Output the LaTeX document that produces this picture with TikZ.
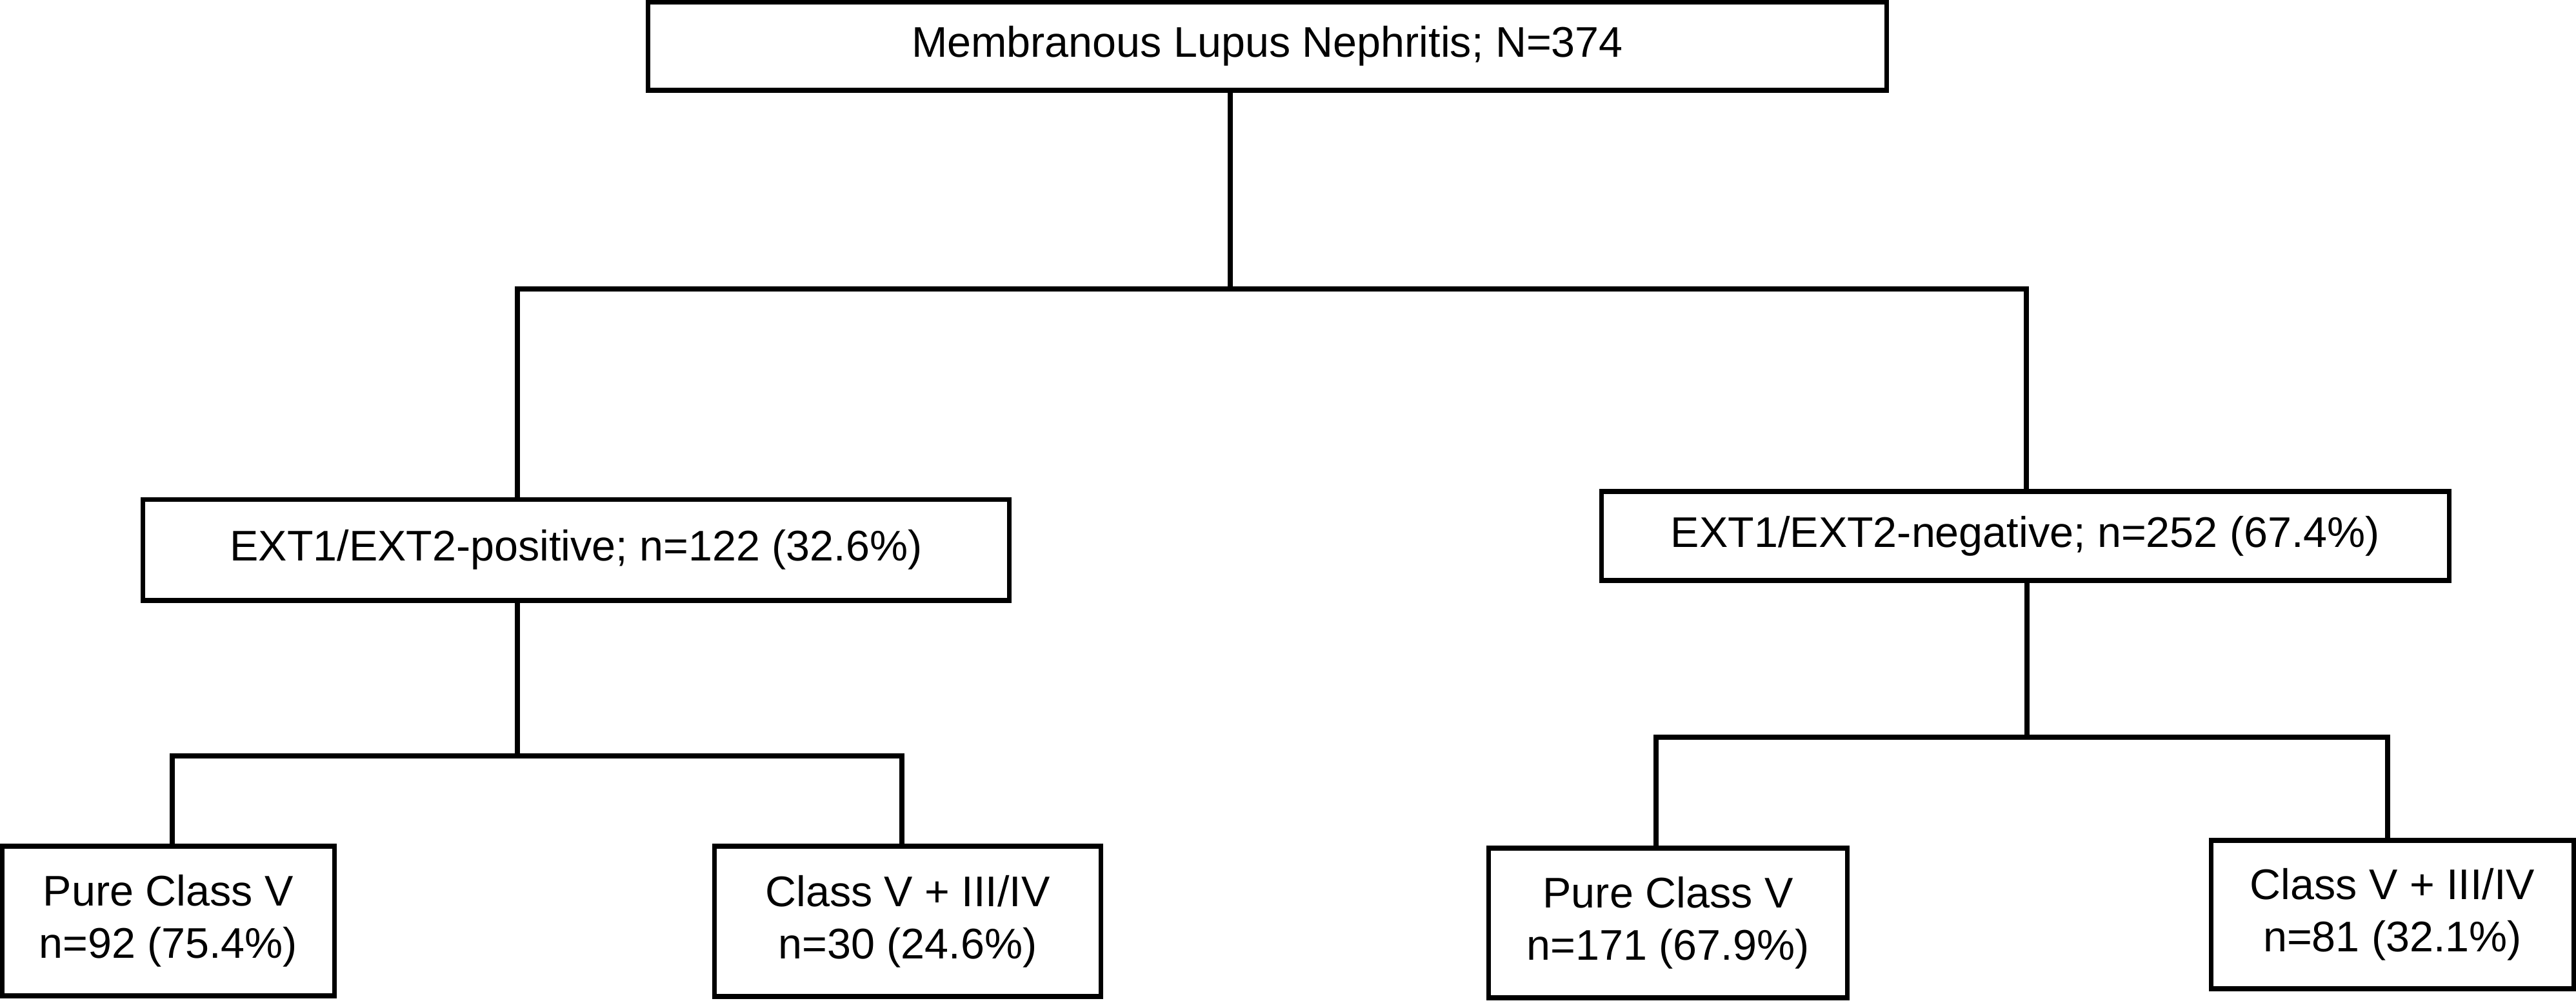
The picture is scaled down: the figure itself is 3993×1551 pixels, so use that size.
\documentclass[tikz,border=0pt]{standalone}
\usepackage{fontspec}
\setmainfont{Liberation Sans}
\begin{document}
\begin{tikzpicture}[x=0.01cm,y=-0.01cm,
  box/.style={draw=black, line width=0.072cm, inner sep=0pt, align=center,
    font=\fontsize{18.9pt}{23pt}\selectfont, fill=white},
  conn/.style={draw=black, line width=0.072cm}]
\useasboundingbox[fill=white] (0,0) rectangle (3993,1551);

% boxes
\node[box, minimum width=19.19cm, minimum height=1.37cm] (top) at (1964.5,71.5)
  {Membranous Lupus Nephritis; N=374};
\node[box, minimum width=13.42cm, minimum height=1.565cm] (midL) at (893,852.75)
  {EXT1/EXT2-positive; n=122 (32.6\%)};
\node[box, minimum width=13.13cm, minimum height=1.38cm] (midR) at (3139.5,831)
  {EXT1/EXT2-negative; n=252 (67.4\%)};
\node[box, minimum width=5.145cm, minimum height=2.32cm] (BL1) at (260.75,1428)
  {Pure Class V\\n=92 (75.4\%)};
\node[box, minimum width=5.98cm, minimum height=2.33cm] (BL2) at (1407,1428.5)
  {Class V + III/IV\\n=30 (24.6\%)};
\node[box, minimum width=5.55cm, minimum height=2.32cm] (BR1) at (2585.5,1431)
  {Pure Class V\\n=171 (67.9\%)};
\node[box, minimum width=5.61cm, minimum height=2.30cm] (BR2) at (3708.5,1418)
  {Class V + III/IV\\n=81 (32.1\%)};

% junction coordinates
\coordinate (j0) at (1907,448);
\coordinate (jL) at (802,448);
\coordinate (jR) at (3141,448);
\coordinate (kL) at (802,1172);
\coordinate (kL1) at (267,1172);
\coordinate (kL2) at (1398,1172);
\coordinate (kR) at (3142,1143);
\coordinate (kR1) at (2567,1143);
\coordinate (kR2) at (3701,1143);

% connectors
\draw[conn] (top.south -| j0) -- (j0);
\draw[conn] (jL |- midL.north) -- (jL) -- (jR) -- (jR |- midR.north);
\draw[conn] (midL.south -| kL) -- (kL);
\draw[conn] (kL1 |- BL1.north) -- (kL1) -- (kL2) -- (kL2 |- BL2.north);
\draw[conn] (midR.south -| kR) -- (kR);
\draw[conn] (kR1 |- BR1.north) -- (kR1) -- (kR2) -- (kR2 |- BR2.north);
\end{tikzpicture}
\end{document}
